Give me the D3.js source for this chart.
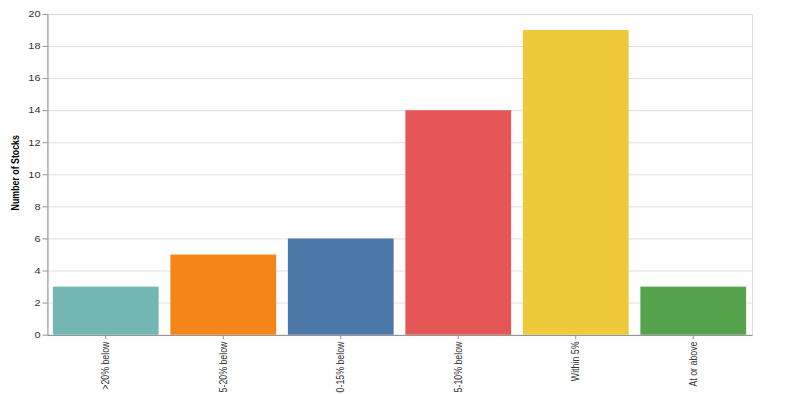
<!DOCTYPE html>
<html>
<head>
<meta charset="utf-8">
<script src="https://cdn.jsdelivr.net/npm/d3@7"></script>
<style>
  body { margin: 0; background: #fff; }
  svg { display: block; }
</style>
</head>
<body>
<div id="chart"></div>
<script>
// chart data
const categories = [">20% below", "5-20% below", "0-15% below", "5-10% below", "Within 5%", "At or above"];
const counts = [3, 5, 6, 14, 19, 3];
const colors = ["#72b7b2", "#f58518", "#4c78a8", "#e45756", "#eeca3b", "#54a24b"];
const yTicks = [0, 2, 4, 6, 8, 10, 12, 14, 16, 18, 20];

// the picture is drawn tall then squeezed to fit the window height
const outW = 790, outH = 394;
const vbH = 492;
const margin = { top: 17.5, right: 38, bottom: 74, left: 47 },
    width = outW - margin.left - margin.right,
    height = vbH - margin.top - margin.bottom;

const root = d3.select("#chart")
    .append("svg")
    .attr("width", outW)
    .attr("height", outH)
    .attr("viewBox", `0 0 ${outW} ${vbH}`)
    .attr("preserveAspectRatio", "none");

const svg = root.append("g")
    .attr("transform", `translate(${margin.left}, ${margin.top})`);

const x = d3.scaleBand()
    .domain(categories)
    .range([0, width])
    .paddingInner(0.1)
    .paddingOuter(0.05);

const y = d3.scaleLinear()
    .domain([0, 20])
    .range([height, 0]);

// grid
svg.append("g")
    .selectAll("line")
    .data(yTicks)
    .join("line")
    .attr("x1", 0)
    .attr("x2", width)
    .attr("y1", d => y(d) + 0.5)
    .attr("y2", d => y(d) + 0.5)
    .attr("stroke", "#ddd");

// view frame
svg.append("rect")
    .attr("x", 0.5)
    .attr("y", 0.5)
    .attr("width", width)
    .attr("height", height)
    .attr("fill", "none")
    .attr("stroke", "#ddd");

// bars
svg.append("g")
    .selectAll("rect")
    .data(categories)
    .join("rect")
    .attr("x", d => x(d))
    .attr("y", (d, i) => y(counts[i]))
    .attr("width", x.bandwidth())
    .attr("height", (d, i) => height - y(counts[i]))
    .attr("fill", (d, i) => colors[i]);

// x axis
const xAxis = svg.append("g")
    .attr("transform", `translate(0, ${height + 0.5})`)
    .call(d3.axisBottom(x).tickSize(5).tickSizeOuter(0).tickPadding(2));
xAxis.selectAll("text")
    .attr("transform", "rotate(-90)")
    .attr("text-anchor", "end")
    .attr("x", -8)
    .attr("y", 0)
    .attr("dy", "0.32em");

// y axis
const yAxis = svg.append("g")
    .attr("transform", "translate(0.5, 0)")
    .call(d3.axisLeft(y).tickValues(yTicks).tickSize(5).tickSizeOuter(0).tickPadding(2));

[xAxis, yAxis].forEach(function (ax) {
    ax.select(".domain").attr("stroke", "#888");
    ax.selectAll(".tick line").attr("stroke", "#888");
    ax.selectAll("text")
        .attr("fill", "#333")
        .style("font-family", "'Liberation Sans', Arial, sans-serif")
        .style("font-size", "11px");
});

// y title
svg.append("text")
    .attr("transform", "rotate(-90)")
    .attr("x", -height / 2 + 2)
    .attr("y", -28)
    .attr("text-anchor", "middle")
    .style("font-family", "'Liberation Sans', Arial, sans-serif")
    .style("font-size", "11px")
    .style("font-weight", "bold")
    .attr("fill", "#000")
    .text("Number of Stocks");
</script>
</body>
</html>
